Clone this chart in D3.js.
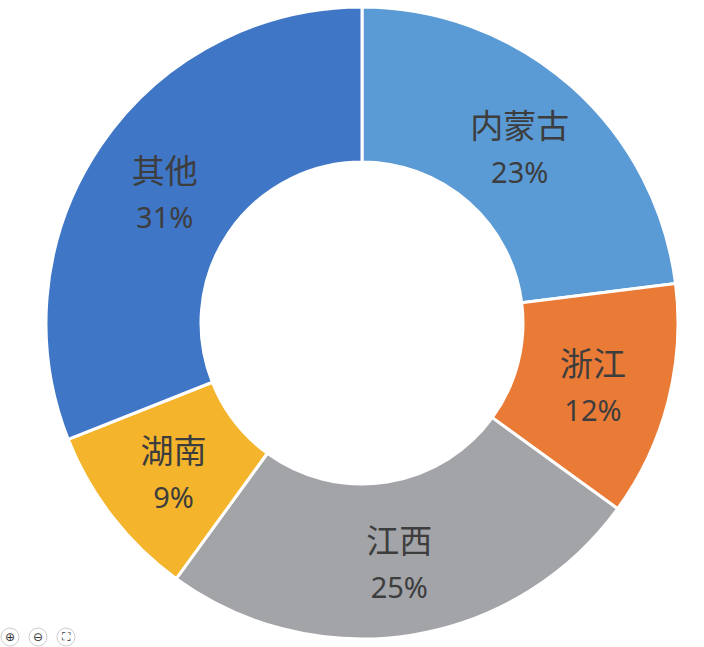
<!DOCTYPE html>
<html><head><meta charset="utf-8">
<script src="https://cdn.jsdelivr.net/npm/d3@7/dist/d3.min.js"></script>
<style>body{margin:0;background:#fff}svg{display:block}</style>
</head><body>
<svg id="c" width="704" height="647"></svg>
<script>
const categories = ["内蒙古", "浙江", "江西", "湖南", "其他"];
const values = [23, 12, 25, 9, 31];
const colors = ["#5b9bd5", "#e97b37", "#a2a4a8", "#f4b42c", "#3f76c6"];

const svg = d3.select("#c");
const cx = 362, cy = 323, rOuter = 316, rInner = 161;
const g = svg.append("g").attr("transform", `translate(${cx},${cy})`);
const data = categories.map((c, i) => ({name: c, value: values[i], color: colors[i]}));
const pie = d3.pie().value(d => d.value).sort(null);
const arc = d3.arc().innerRadius(rInner).outerRadius(rOuter);
const arcs = pie(data);
g.selectAll("path").data(arcs).join("path")
  .attr("d", arc).attr("fill", d => d.data.color)
  .attr("stroke", "#fff").attr("stroke-width", 3).attr("stroke-linejoin", "round");
const lab = g.selectAll("g.l").data(arcs).join("g").attr("class", "l")
  .attr("transform", d => { const [x, y] = arc.centroid(d); return `translate(${x},${y})`; });
lab.append("text").attr("text-anchor", "middle").attr("y", -6)
  .attr("font-family", "Noto Sans CJK SC").attr("font-size", 33).attr("fill", "#3d3d3d")
  .text(d => d.data.name);
lab.append("text").attr("text-anchor", "middle").attr("y", 39)
  .attr("font-family", "Noto Sans").attr("font-size", 29).attr("fill", "#3d3d3d")
  .text(d => d.data.value + "%");

// toolbar icons
const icons = ["⊕", "⊖", "⛶"];
const tb = svg.append("g");
icons.forEach((t, i) => {
  const x = 10 + i * 28, y = 637;
  tb.append("circle").attr("cx", x).attr("cy", y).attr("r", 9).attr("fill", "#fff").attr("stroke", "#ccc");
  tb.append("text").attr("x", x).attr("y", y + 4).attr("text-anchor", "middle")
    .attr("font-family", "DejaVu Sans").attr("font-size", 12).attr("fill", "#333").text(t);
});
</script>
</body></html>
